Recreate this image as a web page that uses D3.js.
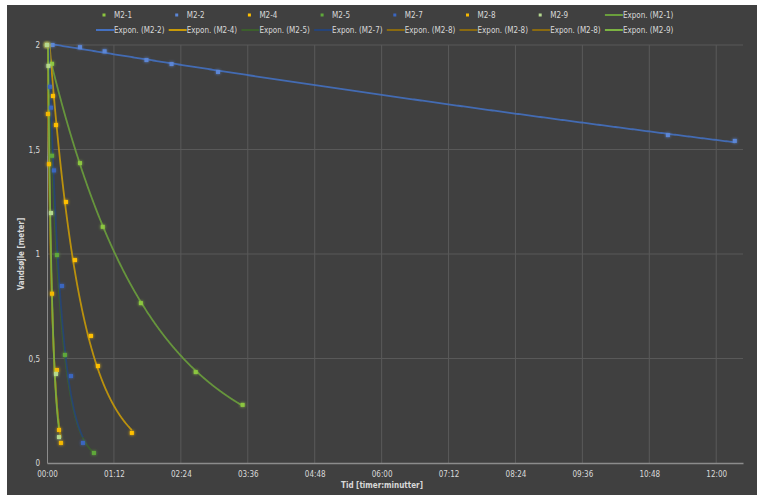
<!DOCTYPE html>
<html>
<head>
<meta charset="utf-8">
<script src="https://cdn.jsdelivr.net/npm/d3@7"></script>
<style>
  body { margin: 0; background: #fff; }
  svg { display: block; }
  text { font-family: "DejaVu Sans Condensed", "DejaVu Sans", sans-serif; fill: #d9d9d9; }
</style>
</head>
<body>
<svg id="chart" width="757" height="495"></svg>
<script>
// Tid i minutter, vandsøjle i meter
const m21Tid = [0, 5.4, 35.5, 60, 101, 160, 210.5]
const m21Hoejde = [2.0, 1.91, 1.435, 1.13, 0.765, 0.435, 0.278]
const m22Tid = [6, 35.5, 62, 107, 134, 184, 668, 740]
const m22Hoejde = [2.0, 1.99, 1.97, 1.928, 1.909, 1.871, 1.569, 1.541]
const m24Tid = [0, 6.4, 9.7, 20.4, 30.1, 47.3, 54.8, 91.3]
const m24Hoejde = [2.0, 1.756, 1.617, 1.249, 0.971, 0.608, 0.464, 0.144]
const m25Tid = [0, 5.4, 10.7, 19.3, 50.5]
const m25Hoejde = [2.0, 1.47, 0.995, 0.517, 0.048]
const m27Tid = [0, 3.2, 4.3, 7.5, 16.1, 25.8, 38.7]
const m27Hoejde = [2.0, 1.80, 1.70, 1.40, 0.847, 0.416, 0.096]
const m28Tid = [0, 1, 2.1, 5.4, 10.7, 12.9, 15]
const m28Hoejde = [2.0, 1.67, 1.43, 0.81, 0.445, 0.158, 0.096]
const m29Tid = [0, 1.5, 4.3, 9.7, 12.9]
const m29Hoejde = [2.0, 1.9, 1.196, 0.426, 0.124]

const xTicks = [0, 72, 144, 216, 288, 360, 432, 504, 576, 648, 720]
const yTicks = [0, 0.5, 1, 1.5, 2]

const series = [
  { navn: "M2-1", tid: m21Tid, h: m21Hoejde, farve: "#8cc63f", trend: "#6a9e3c" },
  { navn: "M2-2", tid: m22Tid, h: m22Hoejde, farve: "#5b86d6", trend: "#4470c0" },
  { navn: "M2-4", tid: m24Tid, h: m24Hoejde, farve: "#ffc000", trend: "#c89a08" },
  { navn: "M2-5", tid: m25Tid, h: m25Hoejde, farve: "#5fa83a", trend: "#3c5f2c" },
  { navn: "M2-7", tid: m27Tid, h: m27Hoejde, farve: "#3a66c0", trend: "#264478" },
  { navn: "M2-8", tid: m28Tid, h: m28Hoejde, farve: "#f5b800", trend: "#8a6a10" },
  { navn: "M2-9", tid: m29Tid, h: m29Hoejde, farve: "#b5d98f", trend: "#7cb342" }
]

// trendlinjer i den rækkefølge Excel viser dem
const trendOrden = ["M2-1", "M2-2", "M2-4", "M2-5", "M2-7", "M2-8", "M2-8", "M2-8", "M2-9"]

const width = 757, height = 495
const svg = d3.select("#chart")

// baggrund
svg.append("rect").attr("width", width).attr("height", height).attr("fill", "#fff")
svg.append("rect").attr("x", 7).attr("y", 5).attr("width", width - 7).attr("height", height - 5).attr("fill", "#404040")

const x = d3.scaleLinear().domain([0, 748.8]).range([47, 743])
const y = d3.scaleLinear().domain([0, 2]).range([463, 45])

const defs = svg.append("defs")
const glow = defs.append("filter").attr("id", "glow").attr("x", "-150%").attr("y", "-150%").attr("width", "400%").attr("height", "400%")
glow.append("feGaussianBlur").attr("in", "SourceGraphic").attr("stdDeviation", 1.7).attr("result", "b")
const merge = glow.append("feMerge")
merge.append("feMergeNode").attr("in", "b")
merge.append("feMergeNode").attr("in", "SourceGraphic")

// trendlinjer klippes til plotområdet
defs.append("clipPath").attr("id", "plotClip").append("rect")
  .attr("x", x.range()[0]).attr("y", y(2) - 1)
  .attr("width", x.range()[1] - x.range()[0]).attr("height", y(0) - y(2) + 1)

const fmtTid = m => String(Math.floor(m / 60)).padStart(2, "0") + ":" + String(Math.round(m % 60)).padStart(2, "0")
const fmtY = v => String(v).replace(".", ",")

// gitter
svg.append("g").selectAll("line").data(xTicks.slice(1)).join("line")
  .attr("x1", d => x(d)).attr("x2", d => x(d)).attr("y1", y(2)).attr("y2", y(0))
  .attr("stroke", "#595959").attr("stroke-width", 1)
svg.append("g").selectAll("line").data(yTicks.slice(1)).join("line")
  .attr("x1", x(0)).attr("x2", x.range()[1]).attr("y1", d => y(d)).attr("y2", d => y(d))
  .attr("stroke", "#595959").attr("stroke-width", 1)

// akser
const xAxis = svg.append("g").attr("transform", `translate(0,${y(0)})`)
  .call(d3.axisBottom(x).tickValues(xTicks).tickFormat(fmtTid).tickSize(0).tickPadding(8))
xAxis.select(".domain").attr("stroke", "#8c8c8c").attr("stroke-width", 1.5)
xAxis.selectAll("text").attr("font-size", 8).attr("fill", "#d0d0d0").style("font-family", null)

const yAxis = svg.append("g").attr("transform", `translate(${x(0)},0)`)
  .call(d3.axisLeft(y).tickValues(yTicks).tickFormat(fmtY).tickSize(0).tickPadding(7))
yAxis.select(".domain").attr("stroke", "#8c8c8c").attr("stroke-width", 1)
yAxis.selectAll("text").attr("font-size", 8).attr("fill", "#d0d0d0").style("font-family", null)

svg.append("text").attr("x", 382).attr("y", 488).attr("text-anchor", "middle")
  .attr("font-size", 8).attr("font-weight", "bold").text("Tid [timer:minutter]")
svg.append("text").attr("transform", "translate(24,254) rotate(-90)").attr("text-anchor", "middle")
  .attr("font-size", 8).attr("font-weight", "bold").text("Vandsøjle [meter]")

// eksponentiel trend: ln(h) = ln(a) + b*t, mindste kvadraters metode
function expFit(tid, h) {
  const n = tid.length
  const ly = h.map(Math.log)
  const mx = d3.mean(tid), my = d3.mean(ly)
  let sxy = 0, sxx = 0
  for (let i = 0; i < n; i++) { sxy += (tid[i] - mx) * (ly[i] - my); sxx += (tid[i] - mx) ** 2 }
  const b = sxy / sxx
  const a = Math.exp(my - b * mx)
  return t => a * Math.exp(b * t)
}

const line = d3.line().x(d => x(d[0])).y(d => y(d[1])).curve(d3.curveLinear)
const trendG = svg.append("g").attr("clip-path", "url(#plotClip)")

trendOrden.forEach(navn => {
  const s = series.find(d => d.navn === navn)
  const f = expFit(s.tid, s.h)
  const t0 = d3.min(s.tid), t1 = d3.max(s.tid)
  const pts = d3.range(0, 401).map(i => { const t = t0 + (t1 - t0) * i / 400; return [t, f(t)] })
  trendG.append("path").datum(pts).attr("d", line).attr("fill", "none")
    .attr("stroke", s.trend).attr("stroke-width", 1.8).attr("opacity", 0.9)
})

// markører med glød
const plot = svg.append("g")
series.forEach(s => {
  plot.append("g").selectAll("rect").data(d3.zip(s.tid, s.h)).join("rect")
    .attr("x", d => x(d[0]) - 2).attr("y", d => y(d[1]) - 2)
    .attr("width", 4).attr("height", 4)
    .attr("fill", s.farve).attr("filter", "url(#glow)")
})

// legend
const colX = d3.range(8).map(i => 114 + i * 72.7)
const leg1 = series.map(s => ({ navn: s.navn, farve: s.farve, type: "punkt" }))
leg1.push({ navn: "Expon. (M2-1)", farve: "#6a9e3c", type: "linje" })
const leg2 = trendOrden.slice(1).map(n => ({ navn: `Expon. (${n})`, farve: series.find(s => s.navn === n).trend, type: "linje" }))

function drawLegend(items, yy) {
  items.forEach((it, i) => {
    const tx = colX[i]
    if (it.type === "punkt") {
      svg.append("rect").attr("x", tx - 11.5).attr("y", yy - 1.5).attr("width", 3).attr("height", 3).attr("fill", it.farve)
    } else {
      svg.append("line").attr("x1", tx - 18).attr("x2", tx).attr("y1", yy).attr("y2", yy)
        .attr("stroke", it.farve).attr("stroke-width", 2)
    }
    svg.append("text").attr("x", tx).attr("y", yy + 3).attr("font-size", 8).attr("fill", "#d0d0d0").text(it.navn)
  })
}
drawLegend(leg1, 15)
drawLegend(leg2, 30)
</script>
</body>
</html>
